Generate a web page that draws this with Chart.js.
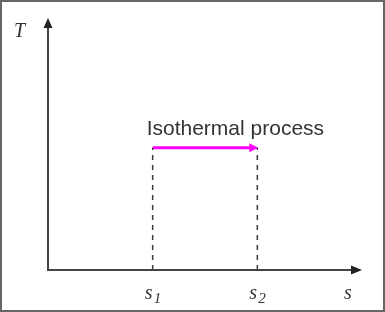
<!DOCTYPE html>
<html>
  <head>
    <meta charset="utf-8">
    <script src="https://cdn.jsdelivr.net/npm/chart.js@4/dist/chart.umd.min.js"></script>
    <style>
      body { margin: 0; background: white; }
      #wrap { width: 385px; height: 312px; }
    </style>
  </head>
  <body>
    <div id="wrap"><canvas id="ts-chart" width="385" height="312"></canvas></div>

<script>
  // entropy positions of the two states and the temperature of the isotherm
  const stateS = [1, 2];
  const stateLabels = ['1', '2'];
  const isothermT = 1;
  const sMax = 3;
  const tMax = 2.06;
  const processLabel = 'Isothermal process';

  //draws frame, arrows on axes and all the text labels
  const diagramPlugin = {
    id: 'diagram',
    afterDatasetsDraw(chart) {
      const ctx = chart.ctx;
      const xs = chart.scales.x;
      const ys = chart.scales.y;
      const x0 = xs.getPixelForValue(0);
      const y0 = ys.getPixelForValue(0);
      const xEnd = xs.getPixelForValue(sMax);
      const yEnd = ys.getPixelForValue(tMax);

      ctx.save();
      // frame
      ctx.strokeStyle = '#666';
      ctx.lineWidth = 2;
      ctx.strokeRect(1, 1, chart.width - 2, chart.height - 2);

      // axes
      ctx.strokeStyle = '#444';
      ctx.lineWidth = 2;
      ctx.beginPath();
      ctx.moveTo(x0, yEnd + 6);
      ctx.lineTo(x0, y0);
      ctx.lineTo(xEnd - 6, y0);
      ctx.stroke();

      ctx.fillStyle = '#222';
      ctx.beginPath();
      ctx.moveTo(x0, yEnd);
      ctx.lineTo(x0 - 4.5, yEnd + 10);
      ctx.lineTo(x0 + 4.5, yEnd + 10);
      ctx.closePath();
      ctx.fill();
      ctx.beginPath();
      ctx.moveTo(xEnd, y0);
      ctx.lineTo(xEnd - 11, y0 - 4.5);
      ctx.lineTo(xEnd - 11, y0 + 4.5);
      ctx.closePath();
      ctx.fill();

      // arrowhead on the isotherm
      const ax = xs.getPixelForValue(stateS[1]) + 1;
      const ay = ys.getPixelForValue(isothermT);
      ctx.fillStyle = '#ff00ff';
      ctx.beginPath();
      ctx.moveTo(ax, ay);
      ctx.lineTo(ax - 9, ay - 4.5);
      ctx.lineTo(ax - 9, ay + 4.5);
      ctx.closePath();
      ctx.fill();

      // process text
      ctx.fillStyle = '#333';
      ctx.font = '21px "Liberation Sans", Arial, sans-serif';
      ctx.textAlign = 'left';
      ctx.textBaseline = 'alphabetic';
      ctx.fillText(processLabel, xs.getPixelForValue(stateS[0]) - 6, ay - 13);

      // axis titles
      ctx.font = 'italic 20px "Liberation Serif", "Times New Roman", serif';
      ctx.fillText('T', 14, 37);
      ctx.textAlign = 'center';
      ctx.fillText('s', xEnd - 14, y0 + 29);

      // tick labels s1, s2
      stateS.forEach((s, i) => {
        const px = xs.getPixelForValue(s);
        ctx.font = 'italic 20px "Liberation Serif", "Times New Roman", serif';
        ctx.textAlign = 'left';
        ctx.fillText('s', px - 8, y0 + 29);
        ctx.font = 'italic 15px "Liberation Serif", "Times New Roman", serif';
        ctx.fillText(stateLabels[i], px + 1, y0 + 33);
      });
      ctx.restore();
    }
  };

  function dropLine(s) {
    return {
      data: [{x: s, y: 0}, {x: s, y: isothermT}],
      borderColor: '#3a3a3a',
      borderWidth: 1.5,
      borderDash: [5, 5],
      pointRadius: 0,
      showLine: true
    };
  }

  new Chart(document.getElementById('ts-chart'), {
    type: 'scatter',
    data: {
      datasets: [
        dropLine(stateS[0]),
        dropLine(stateS[1]),
        {
          data: [{x: stateS[0], y: isothermT}, {x: stateS[1] - 7 / 105, y: isothermT}],
          borderColor: '#ff00ff',
          borderWidth: 3,
          pointRadius: 0,
          showLine: true
        }
      ]
    },
    options: {
      responsive: false,
      animation: false,
      layout: { padding: { left: 48, right: 23, top: 18, bottom: 42 } },
      plugins: { legend: { display: false }, tooltip: { enabled: false } },
      scales: {
        x: { type: 'linear', min: 0, max: sMax, display: false },
        y: { type: 'linear', min: 0, max: tMax, display: false }
      }
    },
    plugins: [diagramPlugin]
  });
</script>
  </body>
</html>
